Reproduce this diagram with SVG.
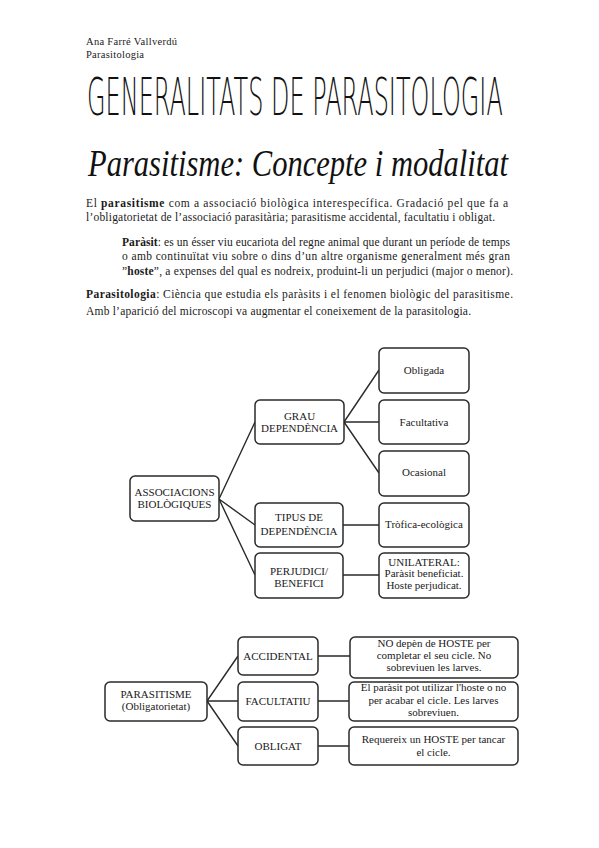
<svg xmlns="http://www.w3.org/2000/svg" width="599" height="848" viewBox="0 0 599 848">
<style>
.t{font-family:"Liberation Serif",serif;fill:#1a1a1a}
.p{font-size:11.5px}
.n{font-size:11px;text-anchor:middle}
.box{fill:#fff;stroke:#2a2a2a;stroke-width:1.5}
.c{stroke:#2a2a2a;stroke-width:1.4;fill:none}
</style>
<rect width="599" height="848" fill="#fff"/>
<g id="header">
<text class="t" x="86" y="45" font-size="10.5" textLength="91" lengthAdjust="spacing">Ana Farré Vallverdú</text>
<text class="t" x="86" y="58" font-size="10.5" textLength="58" lengthAdjust="spacing">Parasitologia</text>
<text transform="matrix(0.42,0,0,1,87,115)" x="0" y="0" font-family="DejaVu Sans,sans-serif" font-weight="200" font-size="51" fill="#111" textLength="990" lengthAdjust="spacingAndGlyphs">GENERALITATS DE PARASITOLOGIA</text>
<text transform="matrix(1,0,0,1.25,88,176)" x="0" y="0" font-family="Liberation Serif,serif" font-style="italic" font-size="30" fill="#111" textLength="420" lengthAdjust="spacingAndGlyphs">Parasitisme: Concepte i modalitat</text>
</g>
<g id="body">
<text class="t p" x="86" y="207" textLength="422" lengthAdjust="spacing">El <tspan font-weight="bold">parasitisme</tspan> com a associació biològica interespecífica. Gradació pel que fa a</text>
<text class="t p" x="86" y="221" textLength="409" lengthAdjust="spacing">l’obligatorietat de l’associació parasitària; parasitisme accidental, facultatiu i obligat.</text>
<text class="t p" x="122" y="246" textLength="388" lengthAdjust="spacing"><tspan font-weight="bold">Paràsit</tspan>: es un ésser viu eucariota del regne animal que durant un període de temps</text>
<text class="t p" x="122" y="260" textLength="388" lengthAdjust="spacing">o amb continuïtat viu sobre o dins d’un altre organisme generalment més gran</text>
<text class="t p" x="122" y="275" textLength="391" lengthAdjust="spacing">”<tspan font-weight="bold">hoste</tspan>”, a expenses del qual es nodreix, produint-li un perjudici (major o menor).</text>
<text class="t p" x="86" y="298" textLength="427" lengthAdjust="spacing"><tspan font-weight="bold">Parasitologia</tspan>: Ciència que estudia els paràsits i el fenomen biològic del parasitisme.</text>
<text class="t p" x="86" y="315" textLength="385" lengthAdjust="spacing">Amb l’aparició del microscopi va augmentar el coneixement de la parasitologia.</text>
</g>
<g id="connectors">
<path class="c" d="M219 499L255 422M219 499L255 525M219 499L255 575M344 422L379 370M344 422L379 422M344 422L379 473M343 525L379 525M343 575L379 575"/>
<path class="c" d="M207 701L238 656M207 701L238 701M207 701L238 746M318 656L350 656M318 701L349 701M318 746L349 746"/>
</g>
<g id="n-assoc"><rect class="box" x="130" y="476" width="89" height="45" rx="5"/><text class="t n" x="174.5" y="496">ASSOCIACIONS</text><text class="t n" x="174.5" y="508">BIOLÒGIQUES</text></g>
<g id="n-grau"><rect class="box" x="255" y="400" width="89" height="44" rx="5"/><text class="t n" font-size="12" x="299.5" y="420">GRAU</text><text class="t n" font-size="12" x="299.5" y="432">DEPENDÈNCIA</text></g>
<g id="n-obligada"><rect class="box" x="379" y="348" width="90" height="45" rx="5"/><text class="t n" x="424" y="374">Obligada</text></g>
<g id="n-facultativa"><rect class="box" x="379" y="400" width="90" height="44" rx="5"/><text class="t n" x="424" y="426">Facultativa</text></g>
<g id="n-ocasional"><rect class="box" x="379" y="451" width="90" height="45" rx="5"/><text class="t n" x="424" y="476">Ocasional</text></g>
<g id="n-tipus"><rect class="box" x="255" y="503" width="88" height="44" rx="5"/><text class="t n" font-size="12" x="299" y="521">TIPUS DE</text><text class="t n" font-size="12" x="299" y="535">DEPENDÈNCIA</text></g>
<g id="n-trofica"><rect class="box" x="379" y="503" width="90" height="44" rx="5"/><text class="t n" x="424" y="528">Tròfica-ecològica</text></g>
<g id="n-perjudici"><rect class="box" x="255" y="553" width="88" height="45" rx="5"/><text class="t n" x="299" y="575">PERJUDICI/</text><text class="t n" x="299" y="587">BENEFICI</text></g>
<g id="n-unilateral"><rect class="box" x="379" y="553" width="90" height="45" rx="5"/><text class="t n" x="424" y="566">UNILATERAL:</text><text class="t n" x="424" y="577">Paràsit beneficiat.</text><text class="t n" x="424" y="589">Hoste perjudicat.</text></g>
<g id="n-parasitisme"><rect class="box" x="105" y="682" width="102" height="39" rx="5"/><text class="t n" font-size="11.5" x="156" y="698">PARASITISME</text><text class="t n" font-size="11.5" x="156" y="710">(Obligatorietat)</text></g>
<g id="n-accidental"><rect class="box" x="238" y="637" width="80" height="38" rx="5"/><text class="t n" font-size="11.5" x="278" y="660">ACCIDENTAL</text></g>
<g id="n-facultatiu"><rect class="box" x="238" y="682" width="80" height="39" rx="5"/><text class="t n" font-size="11.5" x="278" y="705">FACULTATIU</text></g>
<g id="n-obligat"><rect class="box" x="238" y="727" width="80" height="38" rx="5"/><text class="t n" font-size="11.5" x="278" y="750">OBLIGAT</text></g>
<g id="n-d1"><rect class="box" x="350" y="637" width="168" height="41" rx="5"/><text class="t n" x="434" y="647">NO depèn de HOSTE per</text><text class="t n" x="434" y="659">completar el seu cicle. No</text><text class="t n" x="434" y="671">sobreviuen les larves.</text></g>
<g id="n-d2"><rect class="box" x="349" y="682" width="169" height="39" rx="5"/><text class="t n" x="433.5" y="691">El paràsit pot utilizar l'hoste o no</text><text class="t n" x="433.5" y="704">per acabar el cicle. Les larves</text><text class="t n" x="433.5" y="716">sobreviuen.</text></g>
<g id="n-d3"><rect class="box" x="349" y="727" width="169" height="38" rx="5"/><text class="t n" x="433.5" y="743">Requereix un HOSTE per tancar</text><text class="t n" x="433.5" y="756">el cicle.</text></g>
</svg>
